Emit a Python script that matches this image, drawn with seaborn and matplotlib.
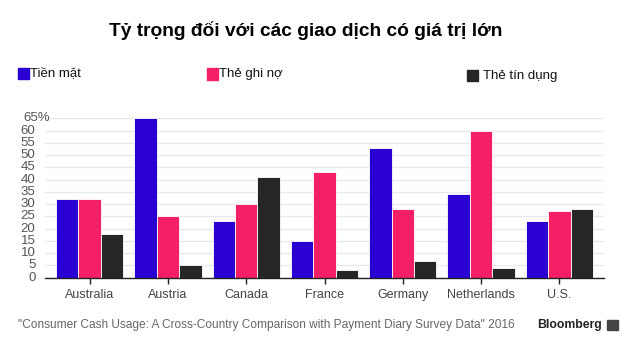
import matplotlib
matplotlib.use("Agg")
import matplotlib.pyplot as plt
import seaborn as sns
import pandas as pd
from matplotlib.patches import Rectangle
from matplotlib.transforms import blended_transform_factory

countries = ["Australia", "Austria", "Canada", "France", "Germany", "Netherlands", "U.S."]
series = ["Tiền mặt", "Thẻ ghi nợ", "Thẻ tín dụng"]
cash = [32, 65, 23, 15, 53, 34, 23]
debit = [32, 25, 30, 43, 28, 60, 27]
credit = [18, 5, 41, 3, 7, 4, 28]
yticks = [0, 5, 10, 15, 20, 25, 30, 35, 40, 45, 50, 55, 60, 65]
ytick_labels = ["0", "5", "10", "15", "20", "25", "30", "35", "40", "45", "50", "55", "60", "65%"]
title = "Tỷ trọng đối với các giao dịch có giá trị lớn"
source = "\"Consumer Cash Usage: A Cross-Country Comparison with Payment Diary Survey Data\" 2016"

colors = ["#2a00d2", "#f51f66", "#262626"]

rows = []
for name, vals in zip(series, [cash, debit, credit]):
    for c, v in zip(countries, vals):
        rows.append({"country": c, "type": name, "value": v})
df = pd.DataFrame(rows)

sns.set_theme(style="white")
plt.rcParams["font.family"] = ["Liberation Sans", "DejaVu Sans"]

W, H = 640, 350
fig = plt.figure(figsize=(6.4, 3.5), dpi=100)
ax = fig.add_axes([45 / W, 1 - 277.7 / H, (604 - 45) / W, (277.7 - 118.3) / H])

sns.barplot(data=df, x="country", y="value", hue="type", order=countries,
            hue_order=series, palette=colors, width=0.86, ax=ax,
            edgecolor="white", linewidth=0.6, legend=False, errorbar=None,
            saturation=1)

ax.set_ylim(0, 65)
ax.set_xlim(-0.57, 6.57)
ax.set_yticks(yticks)
ax.set_yticklabels([])
ax.set_xlabel("")
ax.set_ylabel("")
ax.yaxis.grid(True, color="#e8e8ee", linewidth=1)
ax.set_axisbelow(True)
for s in ["top", "right", "left"]:
    ax.spines[s].set_visible(False)
ax.spines["bottom"].set_color("#222222")
ax.spines["bottom"].set_linewidth(1)
ax.tick_params(axis="y", length=0)
ax.tick_params(axis="x", length=4, width=1, color="#222222", pad=4,
               labelsize=9, labelcolor="#444444", bottom=True)

# y tick labels: numbers right-aligned at x=35px, "%" hanging past it
trans = blended_transform_factory(fig.transFigure, ax.transData)
for v, lab in zip(yticks, ytick_labels):
    if lab.endswith("%"):
        ax.text(23 / W, v, lab, transform=trans, ha="left", va="center",
                fontsize=9.5, color="#555555")
    else:
        ax.text(35.5 / W, v, lab, transform=trans, ha="right", va="center",
                fontsize=9.5, color="#555555")

fig.text(306 / W, 1 - 31 / H, title, ha="center", va="center",
         fontsize=13.8, fontweight="bold", color="#000000")

leg_x = [18, 207, 467]
leg_y = [73.5, 74, 75.5]
for name, col, lx, ly in zip(series, colors, leg_x, leg_y):
    fig.patches.append(Rectangle((lx / W, 1 - (ly + 5.5) / H), 11 / W, 11 / H,
                                 transform=fig.transFigure, color=col))
    fig.text((lx + (12 if lx < 400 else 16)) / W, 1 - ly / H, name, ha="left", va="center",
             fontsize=9.5, color="#111111")

fig.text(18 / W, 1 - 325 / H, source, ha="left", va="center",
         fontsize=8.55, color="#666666")
fig.text(537 / W, 1 - 325 / H, "Bloomberg", ha="left", va="center",
         fontsize=8.8, fontweight="bold", color="#222222")
fig.patches.append(Rectangle((607 / W, 1 - 330 / H), 11 / W, 10 / H,
                             transform=fig.transFigure, color="#444444"))

fig.savefig("out.png", dpi=100, facecolor="white")
